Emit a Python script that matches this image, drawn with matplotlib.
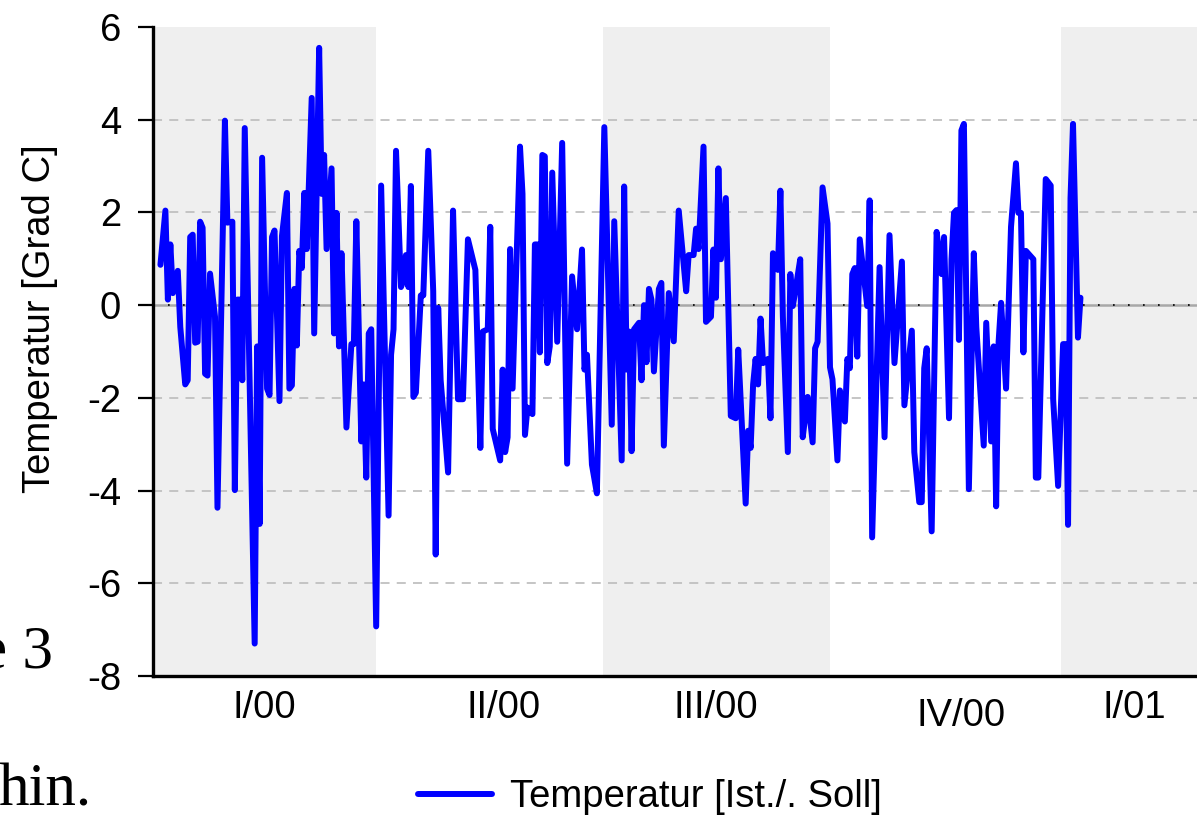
import matplotlib
matplotlib.use("Agg")
import matplotlib.pyplot as plt
from matplotlib.lines import Line2D

plt.rcParams["font.family"] = ["Liberation Sans", "DejaVu Sans"]

# ---- data (day index from 1 Jan 2000, deviation Ist/Soll in Grad C) ----
days = [3, 5, 6, 7, 8, 10, 11, 13, 14, 15, 16, 17, 18, 19, 20, 21, 22, 23, 25, 26,
        29, 30, 32, 33, 34, 35, 36, 37, 41, 42, 43, 44, 46, 47, 48, 49, 51, 52, 54, 55,
        56, 57, 58, 59, 60, 61, 62, 64, 65, 67, 68, 69, 70, 72, 73, 74, 75, 76, 78, 80,
        81, 82, 84, 85, 86, 87, 88, 90, 92, 95, 96, 97, 98, 100, 101, 102, 103, 104, 105, 106,
        108, 109, 111, 113, 114, 115, 116, 119, 121, 122, 123, 125, 127, 130, 132, 133, 135, 136, 137, 140,
        141, 142, 143, 144, 145, 148, 149, 150, 151, 153, 154, 155, 156, 157, 158, 159, 160, 161, 163, 165,
        167, 169, 171, 173, 174, 175, 177, 179, 182, 185, 186, 189, 190, 191, 192, 193, 194, 196, 197, 198,
        199, 200, 201, 202, 204, 205, 206, 208, 210, 212, 215, 216, 218, 219, 220, 222, 223, 225, 226, 227,
        228, 229, 231, 233, 235, 236, 239, 240, 241, 242, 243, 244, 245, 246, 248, 249, 250, 252, 253, 254,
        256, 257, 258, 259, 261, 262, 264, 266, 267, 268, 270, 272, 273, 274, 276, 277, 279, 280, 281, 282,
        283, 284, 285, 288, 289, 290, 293, 295, 297, 299, 302, 303, 306, 307, 309, 310, 311, 312, 314, 316,
        318, 319, 321, 322, 323, 324, 325, 326, 327, 329, 331, 332, 335, 336, 338, 339, 340, 341, 342, 344,
        346, 348, 349, 350, 351, 352, 355, 356, 357, 360, 362, 363, 365, 367, 368, 369, 370, 371, 373, 374]
temps = [0.87, 2.04, 0.12, 1.31, 0.26, 0.74, -0.47, -1.71, -1.62, 1.47, 1.52, -0.81, -0.79, 1.80, 1.67, -1.48, -1.52, 0.68, -0.25, -4.37,
         3.98, 1.78, 1.80, -3.99, 0.12, 0.12, -1.62, 3.82, -7.30, -0.89, -4.72, 3.18, -1.80, -1.94, 1.47, 1.61, -2.07, 1.49, 2.42, -1.80,
         -1.73, 0.35, -0.87, 1.17, 0.80, 2.42, 1.21, 4.47, -0.61, 5.55, 2.40, 3.24, 1.21, 2.95, -0.61, 1.99, -0.89, 1.12, -2.64, -0.84,
         -0.84, 1.81, -2.94, -1.71, -3.72, -0.61, -0.52, -6.93, 2.58, -4.54, -1.07, -0.52, 3.33, 0.39, 0.53, 1.08, 0.39, 2.57, -1.98, -1.89,
         0.21, 0.21, 3.33, 0.30, -5.38, -0.06, -1.62, -3.61, 2.04, -0.06, -2.03, -2.03, 1.42, 0.76, -3.08, -0.57, -0.52, 1.69, -2.67, -3.35,
         -1.39, -3.17, -2.85, 1.21, -1.80, 3.42, 2.40, -2.80, -2.21, -2.35, 1.31, 1.31, -1.02, 3.24, 3.21, -1.25, -0.89, 2.86, -0.79, 3.50,
         -3.42, 0.62, -0.52, 1.20, -1.39, -1.07, -3.44, -4.06, 3.84, -2.58, 1.81, -3.35, 2.56, -1.39, -0.57, -3.15, -0.52, -0.38, -1.62, 0.00,
         -1.23, 0.35, 0.12, -1.43, 0.35, 0.48, -3.03, 0.26, -0.78, 2.04, 0.30, 1.08, 1.08, 1.65, 1.21, 3.42, -0.36, -0.25, 1.20, 0.16,
         2.95, 0.99, 2.31, -2.39, -2.44, -0.96, -4.28, -2.71, -3.08, -1.71, -1.16, -1.71, -0.29, -1.25, -1.16, -2.44, 1.12, 0.76, 2.47, -0.25,
         -3.17, 0.67, -0.02, 0.30, 0.99, -2.85, -1.98, -2.96, -0.93, -0.79, 2.54, 1.76, -1.34, -1.60, -3.35, -1.84, -2.51, -1.16, -1.36, 0.67,
         0.80, -1.11, 1.42, -0.02, 2.26, -5.01, 0.82, -2.85, 1.51, -1.25, 0.94, -2.16, -0.55, -3.17, -4.25, -4.25, -1.36, -0.93, -4.88, 1.58,
         0.67, 1.47, -2.44, 0.99, 1.99, 2.05, -0.75, 3.77, 3.91, -3.97, 1.12, -0.47, -3.03, -0.38, -2.94, -0.89, -4.34, -0.79, 0.05, -1.80,
         1.69, 3.06, 1.99, 1.99, -1.02, 1.17, 0.99, -3.72, -3.72, 2.72, 2.58, -2.03, -3.90, -0.84, -0.84, -4.74, 2.31, 3.91, -0.70, 0.16]

quarter_labels = ["I/00", "II/00", "III/00", "IV/00", "I/01"]
quarter_label_days = [45, 141.5, 227, 326, 395.6]
shaded_quarters = [(0, 90), (181.5, 273), (366, 421)]
yticks = [-8, -6, -4, -2, 0, 2, 4, 6]
series_name = "Temperatur [Ist./. Soll]"
y_title = "Temperatur [Grad C]"

FS = 27.5
W, H = 1197, 817
fig = plt.figure(figsize=(W / 100, H / 100), dpi=100)
ax = fig.add_axes([153 / W, 1 - 676 / H, 1 - 153 / W, (676 - 27) / H])

ax.set_xlim(0, 421)
ax.set_ylim(-8, 6)

for a, b in shaded_quarters:
    ax.axvspan(a, b, color="#efefef", lw=0, zorder=0)

for yv in yticks:
    if yv in (0, -8, 6):
        continue
    ax.axhline(yv, color="#c0c0c0", lw=1.3, dashes=(5, 4), zorder=1)
ax.axhline(0, color="#a8a8a8", lw=1.8, zorder=1)
ax.axhline(0, color="black", lw=1.2, dashes=(1, 8), zorder=1)

line, = ax.plot(days, temps, color="#0000ff", lw=4.3, solid_joinstyle="round",
                solid_capstyle="round", zorder=3)

for s in ("top", "right"):
    ax.spines[s].set_visible(False)
for s in ("left", "bottom"):
    ax.spines[s].set_linewidth(2.4)
    ax.spines[s].set_color("black")

ax.set_yticks(yticks)
ax.set_yticklabels([str(v) for v in yticks])
ax.tick_params(axis="y", length=11, width=1.6, pad=12, labelsize=FS, direction="out")
ax.set_xticks([])

for lab, d in zip(quarter_labels, quarter_label_days):
    yoff = -0.077 if lab == "IV/00" else -0.064
    ax.text(d, yoff, lab, transform=ax.get_xaxis_transform(), ha="center", va="baseline",
            fontsize=FS)

fig.text(40 / W, 1 - 319 / H, y_title, rotation=90, ha="center", va="center", fontsize=FS)

fig.legend([Line2D([], [], color="#0000ff", lw=4.3, solid_capstyle="round")], [series_name],
           loc="center left", bbox_to_anchor=(418 / W, 1 - 797 / H), frameon=False,
           fontsize=FS, handlelength=1.95, handletextpad=0.45, borderpad=0, borderaxespad=0)

# stray document text visible at left margin of the scanned page
fig.text(53 / W, 1 - 667 / H, "e 3", ha="right", va="baseline", fontsize=44,
         family="Liberation Serif")
fig.text(-2 / W, 1 - 806 / H, "hin.", ha="left", va="baseline", fontsize=44,
         family="Liberation Serif")

fig.savefig("out.png", dpi=100)
